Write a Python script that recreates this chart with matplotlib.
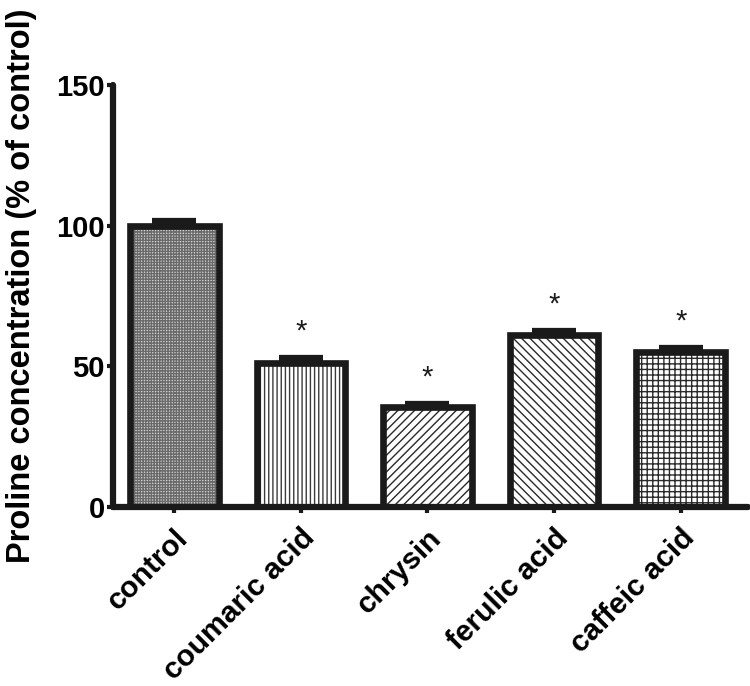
import matplotlib
matplotlib.use("Agg")
import matplotlib.pyplot as plt

categories = ["control", "coumaric acid", "chrysin", "ferulic acid", "caffeic acid"]
values = [100.0, 51.2, 35.6, 61.1, 55.0]
errors = [1.5, 1.6, 1.0, 1.5, 1.5]
significant = [False, True, True, True, True]
yticks = [0, 50, 100, 150]

hatches = ["++++++", "||||", "////", "\\\\\\\\", "+++"]
faces = ["#d4d4d4", "white", "white", "white", "white"]
hatch_colors = ["#6a6a6a", "#3a3a3a", "#2a2a2a", "#2a2a2a", "#2a2a2a"]

plt.rcParams["font.family"] = ["Liberation Sans", "DejaVu Sans"]
plt.rcParams["hatch.linewidth"] = 1.0

fig = plt.figure(figsize=(7.5, 6.86), dpi=100)
ax = fig.add_axes([0.1507, 0.261, 0.997 - 0.1507, 0.876 - 0.261])

x = list(range(len(categories)))
for i in x:
    ax.bar(i, values[i], width=0.7, color=faces[i], edgecolor=hatch_colors[i],
           linewidth=0, hatch=hatches[i], zorder=2)
    ax.bar(i, values[i], width=0.7, fill=False, edgecolor="#1a1a1a",
           linewidth=4.8, zorder=3)
ax.errorbar(x, values, yerr=[[0] * len(values), errors], fmt="none",
            ecolor="#1a1a1a", elinewidth=4, capsize=16, capthick=4.5, zorder=4)
for i in x:
    if significant[i]:
        ax.text(i, values[i] + errors[i] + 9.5, "*", ha="center", va="center",
                fontsize=21, color="#1a1a1a")

ax.set_xlim(-0.484, 4.53)
ax.set_ylim(0, 150)
ax.set_yticks(yticks)
ax.set_yticklabels([str(t) for t in yticks], fontsize=21, fontweight="bold")
ax.set_xticks(x)
ax.set_xticklabels(categories, rotation=45, ha="right", va="top",
                   rotation_mode="anchor", fontsize=21.5, fontweight="bold")
for s in ["top", "right"]:
    ax.spines[s].set_visible(False)
for s in ["left", "bottom"]:
    ax.spines[s].set_linewidth(4.5)
    ax.spines[s].set_color("#1a1a1a")
    ax.spines[s].set_capstyle("round")
ax.tick_params(axis="both", length=4, width=3, color="#1a1a1a", pad=2)
ax.tick_params(axis="x", pad=8)
ax.set_ylabel("Proline concentration (% of control)", fontsize=23.5,
              fontweight="bold")
ax.yaxis.set_label_coords(-0.12, 0.524)

fig.savefig("out.png", dpi=100)
